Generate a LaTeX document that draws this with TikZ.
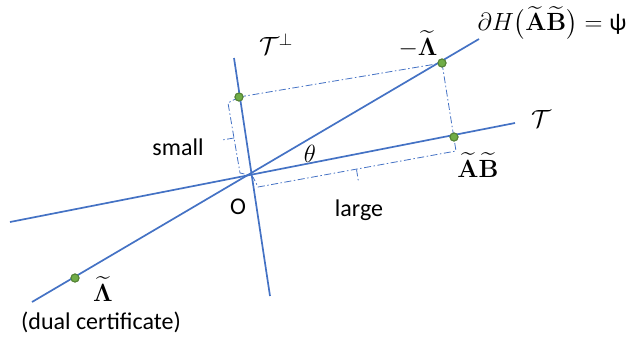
\documentclass[tikz,border=0pt]{standalone}
\usepackage{amsmath}
\usepackage[no-math]{fontspec}
\setmainfont{Carlito}
\tikzset{
  axis/.style={draw=axblue, line width=1.7pt},
  dd/.style={draw=axblue, line width=0.8pt, dash pattern=on 7pt off 2.5pt on 1.5pt off 2.5pt},
  gdot/.style={circle, fill=dotgreen, draw=dotedge, line width=1pt, minimum size=8pt, inner sep=0pt},
  lbl/.style={font=\fontsize{24}{28}\selectfont, inner sep=0pt},
  mlbl/.style={font=\fontsize{25}{29}\selectfont, inner sep=0pt},
  hlbl/.style={font=\fontsize{24}{28}\selectfont, inner sep=0pt}
}
\definecolor{axblue}{RGB}{68,114,196}
\definecolor{dotgreen}{RGB}{112,173,71}
\definecolor{dotedge}{RGB}{84,130,53}
\begin{document}
\begin{tikzpicture}[x=1pt,y=-1pt]
\useasboundingbox (0,0) rectangle (628,343);
% axes
\coordinate (O) at (251,175);
\coordinate (t1) at (10,222);
\coordinate (t2) at (515,123);
\coordinate (p1) at (234,58);
\coordinate (p2) at (270,296);
\coordinate (h1) at (32,302);
\coordinate (h2) at (479,39);
% dash-dot rectangle and braces
\coordinate (bl1) at (228,103);
\coordinate (bl2) at (240,173);
\coordinate (bl3) at (249,175);
\coordinate (bm) at (234,138);
\coordinate (bmt) at (222,140);
\coordinate (bb1) at (253,177);
\coordinate (bb2) at (258,187);
\coordinate (bb3) at (456,151);
\coordinate (bbm) at (356.5,169.5);
\coordinate (bbt) at (358.5,182);
\node[gdot] (dperp) at (239,97) {};
\node[gdot] (dlam) at (442,63) {};
\node[gdot] (dab) at (454,137) {};
\node[gdot] (dlt) at (75,278) {};
\draw[dd] (dperp.center) -- (dlam.center);
\draw[dd] (dlam.center) -- (bb3) -- (bb2) -- (bb1);
\draw[dd] (dperp.center) -- (bl1) -- (bl2) -- (bl3);
\draw[dd] (bm) -- (bmt);
\draw[dd] (bbm) -- (bbt);
\draw[axis] (t1) -- (t2);
\draw[axis] (p1) -- (p2);
\draw[axis] (h1) -- (h2);
\node[gdot] at (dperp) {};
\node[gdot] at (dlam) {};
\node[gdot] at (dab) {};
\node[gdot] at (dlt) {};
% labels
\node[mlbl] (lperp) at (276,44) {$\mathcal{T}^{\perp}$};
\node[mlbl] (llam) at (418,44) {$-\widetilde{\mathbf{\Lambda}}$};
\node[hlbl] (lH) at (552,23) {$\partial H\bigl(\widetilde{\mathbf{A}}\widetilde{\mathbf{B}}\bigr) = \text{ψ}$};
\node[mlbl] (lT) at (541,119) {$\mathcal{T}$};
\node[mlbl] (lab) at (478,165) {$\widetilde{\mathbf{A}}\widetilde{\mathbf{B}}$};
\node[mlbl] (lth) at (310,154) {$\theta$};
\node[lbl] (lsmall) at (178,147) {small};
\node[lbl] (lO) at (238,207) {O};
\node[lbl] (llarge) at (359,210) {large};
\node[mlbl] (llt) at (103,289) {$\widetilde{\mathbf{\Lambda}}$};
\node[lbl] (ldual) at (101,322) {(dual certificate)};
\end{tikzpicture}
\end{document}
